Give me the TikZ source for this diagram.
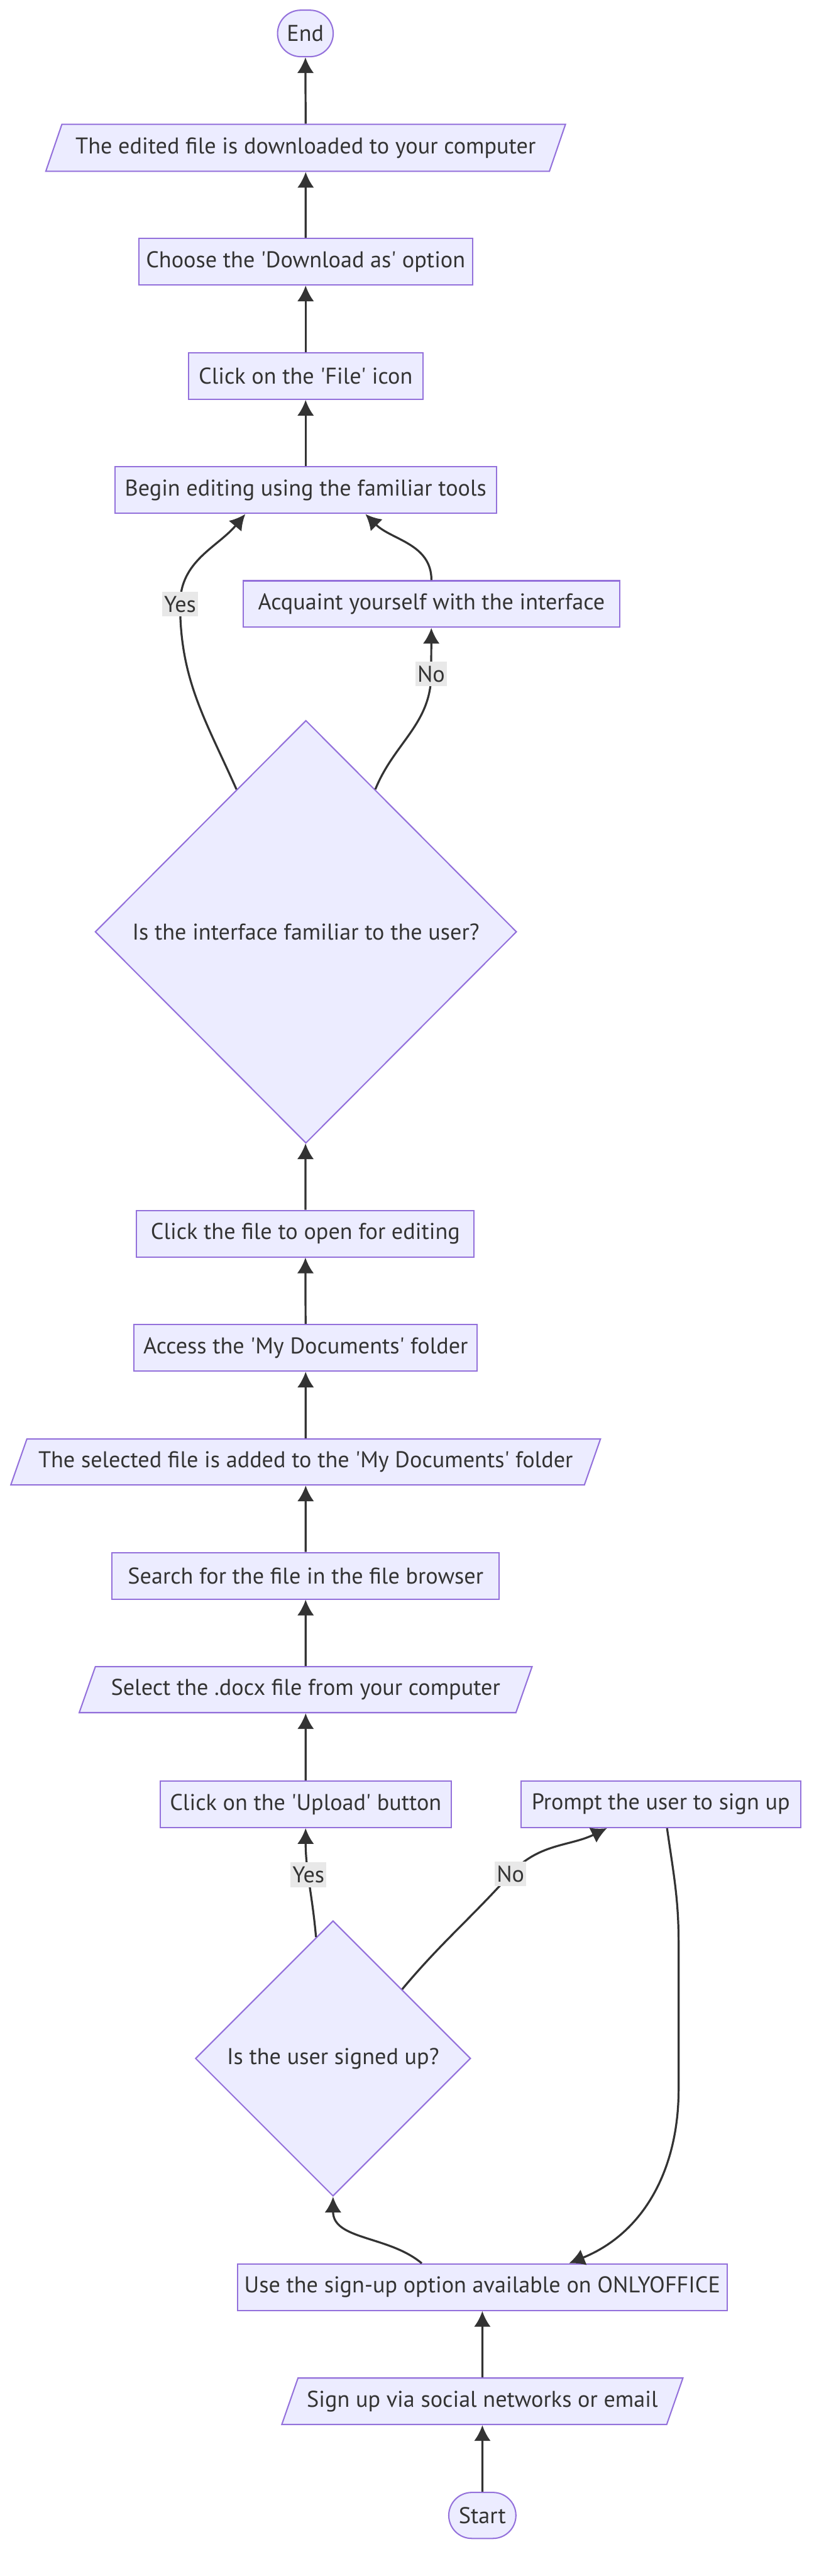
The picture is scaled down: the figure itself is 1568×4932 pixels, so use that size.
\documentclass[tikz,border=0pt]{standalone}
\usepackage{fontspec}
\setmainfont{PT Sans}[Ligatures=TeXOff]
\usepackage{tikz}
\usetikzlibrary{arrows.meta}
\usetikzlibrary{calc}
\usetikzlibrary{positioning}
\usetikzlibrary{shapes.geometric, shapes.misc}
\definecolor{boxfill}{HTML}{ECECFF}
\definecolor{boxline}{HTML}{9370DB}
\definecolor{ink}{HTML}{333333}
\definecolor{tagfill}{HTML}{E8E8E8}
\tikzstyle{block} = [draw=boxline, fill=boxfill, line width=0.7pt, text=ink,
	minimum height=0.89cm]
\tikzstyle{io} = [block, trapezium, trapezium left angle=64,
	trapezium right angle=116, trapezium stretches body]
\tikzstyle{choice} = [block, diamond, inner sep=0pt]
\tikzstyle{terminal} = [block, rounded rectangle]
\tikzstyle{arrow} =[-{Latex[length=3mm, width=3.2mm]}, line width=1.1pt, draw=ink]
\tikzstyle{answer} = [fill=tagfill, text=ink, inner xsep=1pt, inner ysep=0pt,
	minimum height=0.47cm]

\begin{document}
\begin{tikzpicture}[x=0.01cm, y=-0.01cm, font=\fontsize{12.4}{14}\selectfont]
			\useasboundingbox (0,0) rectangle (1568,4932);
			\node (end) [terminal, minimum width=1.3cm] at (585,64) {End};
			\node (download) [io, minimum width=9.95cm, minimum height=0.9cm] at (585.5,283) {The edited file is downloaded to your computer};
			\node (choose) [block, minimum width=6.39cm] at (585.5,501) {Choose the 'Download as' option};
			\node (fileicon) [block, minimum width=4.49cm] at (585.5,720) {Click on the 'File' icon};
			\node (begin) [block, minimum width=7.31cm] at (585.5,938.5) {Begin editing using the familiar tools};
			\node (acquaint) [block, minimum width=7.21cm] at (826.5,1156.5) {Acquaint yourself with the interface};
			\node (d1) [choice, minimum width=8.07cm, minimum height=8.09cm] at (586,1784) {Is the interface familiar to the user?};
			\node (clickfile) [block, minimum width=6.46cm] at (585,2362) {Click the file to open for editing};
			\node (access) [block, minimum width=6.57cm] at (585.5,2580.5) {Access the 'My Documents' folder};
			\node (selected) [io, minimum width=11.29cm, minimum height=0.88cm] at (585.5,2799) {The selected file is added to the 'My Documents' folder};
			\node (search) [block, minimum width=7.41cm] at (585.5,3017) {Search for the file in the file browser};
			\node (docx) [io, minimum width=8.67cm, minimum height=0.88cm] at (585.5,3235) {Select the .docx file from your computer};
			\node (upload) [block, minimum width=5.57cm] at (585.5,3454.5) {Click on the 'Upload' button};
			\node (prompt) [block, minimum width=5.36cm, right=1.31cm] at (upload.east) {Prompt the user to sign up};
			\node (d2) [choice, minimum width=5.27cm, minimum height=5.27cm] at (638,3941) {Is the user signed up?};
			\node (usesignup) [block, minimum width=9.38cm] at (924,4379) {Use the sign-up option available on ONLYOFFICE};
			\node (social) [io, minimum width=7.68cm, minimum height=0.89cm] at (924,4597.5) {Sign up via social networks or email};
			\node (start) [terminal, minimum width=1.52cm, minimum height=0.88cm] at (924,4816) {Start};

			\draw [arrow] (download) -- (end);
			\draw [arrow] (choose) -- (download);
			\draw [arrow] (fileicon) -- (choose);
			\draw [arrow] (begin) -- (fileicon);
			\draw [arrow] (d1.116) to[out=114, in=-90] (345,1157) node [answer] {Yes} to[out=90, in=230] ([xshift=-1.155cm]begin.south);
			\draw [arrow] (d1.64) to[out=68, in=-90] (826,1290) node [answer] {No} -- (acquaint);
			\draw [arrow] (acquaint.north) to[out=90, in=-45] ([xshift=1.145cm]begin.south);
			\draw [arrow] (clickfile) -- (d1);
			\draw [arrow] (access) -- (clickfile);
			\draw [arrow] (selected) -- (access);
			\draw [arrow] (search) -- (selected);
			\draw [arrow] (docx) -- (search);
			\draw [arrow] (upload) -- (docx);
			\draw [arrow] (d2.98) to[out=95, in=-90] node [answer, pos=0.58] {Yes} (upload.south);
			\draw [arrow] (d2.45) to[out=50, in=228] (978,3588) node [answer] {No} to[out=48, in=206] ([xshift=-1.03cm]prompt.south);
			\draw [arrow] ([xshift=0.12cm]prompt.south) to[out=-82, in=90] (1300,3720) -- (1300,4000) to[out=-90, in=22] ([xshift=1.66cm]usesignup.north);
			\draw [arrow] ([xshift=-1.16cm]usesignup.north) to[out=140, in=-90] (d2.south);
			\draw [arrow] (social) -- (usesignup);
			\draw [arrow] (start) -- (social);
		\end{tikzpicture}
\end{document}
